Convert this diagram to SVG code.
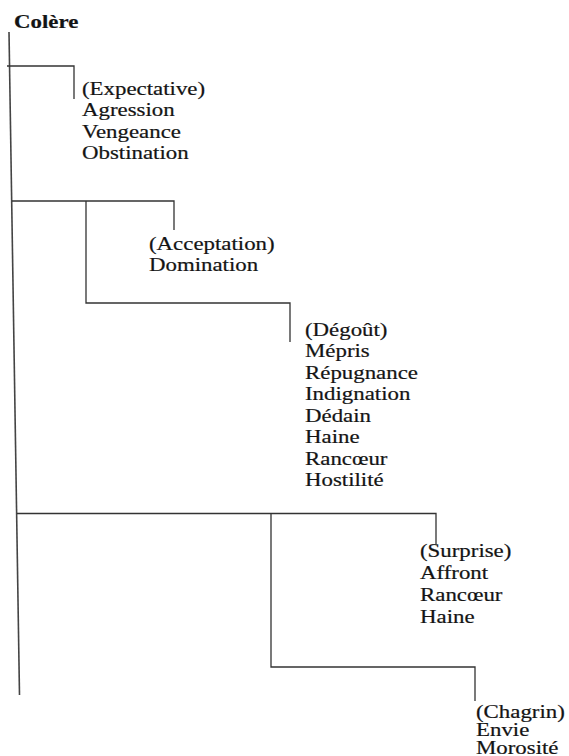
<svg xmlns="http://www.w3.org/2000/svg" width="569" height="756" viewBox="0 0 569 756">
<style>
.t{font-family:"Liberation Serif","Times New Roman",serif;font-size:18px;fill:#141414;stroke:#141414;stroke-width:0.2}
.b{font-weight:bold}
.ln{fill:none;stroke:#333;stroke-width:1.3}
.main{fill:none;stroke:#444;stroke-width:1.6}
</style>
<rect width="569" height="756" fill="#fff"/>
<g id="connectors">
<line class="main" x1="9" y1="32" x2="19.5" y2="695"/>
<polyline class="ln" points="7,66 74,66 74,99"/>
<polyline class="ln" points="12,201 174,201 174,230"/>
<polyline class="ln" points="86,201 86,303 290,303 290,342"/>
<polyline class="ln" points="17,513.5 436,513.5 436,544"/>
<polyline class="ln" points="271,513.5 271,667 475,667 475,701"/>
</g>
<g id="colere">
<text class="t b" transform="translate(14,27.5) scale(1.27,1)">Colère</text>
</g>
<g id="expectative">
<text class="t" transform="translate(82,95) scale(1.27,1)"><tspan x="0" y="0">(Expectative)</tspan><tspan x="0" y="21.5">Agression</tspan><tspan x="0" y="43">Vengeance</tspan><tspan x="0" y="64.5">Obstination</tspan></text>
</g>
<g id="acceptation">
<text class="t" transform="translate(149,250) scale(1.27,1)"><tspan x="0" y="0">(Acceptation)</tspan><tspan x="0" y="21.5">Domination</tspan></text>
</g>
<g id="degout">
<text class="t" transform="translate(305,336) scale(1.27,1)"><tspan x="0" y="0">(Dégoût)</tspan><tspan x="0" y="21.5">Mépris</tspan><tspan x="0" y="43">Répugnance</tspan><tspan x="0" y="64.5">Indignation</tspan><tspan x="0" y="86">Dédain</tspan><tspan x="0" y="107.5">Haine</tspan><tspan x="0" y="129">Rancœur</tspan><tspan x="0" y="150.5">Hostilité</tspan></text>
</g>
<g id="surprise">
<text class="t" transform="translate(420,557) scale(1.27,1)"><tspan x="0" y="0">(Surprise)</tspan><tspan x="0" y="22">Affront</tspan><tspan x="0" y="44">Rancœur</tspan><tspan x="0" y="66">Haine</tspan></text>
</g>
<g id="chagrin">
<text class="t" transform="translate(476,718) scale(1.27,1)"><tspan x="0" y="0">(Chagrin)</tspan><tspan x="0" y="18.5">Envie</tspan><tspan x="0" y="36">Morosité</tspan></text>
</g>
</svg>
